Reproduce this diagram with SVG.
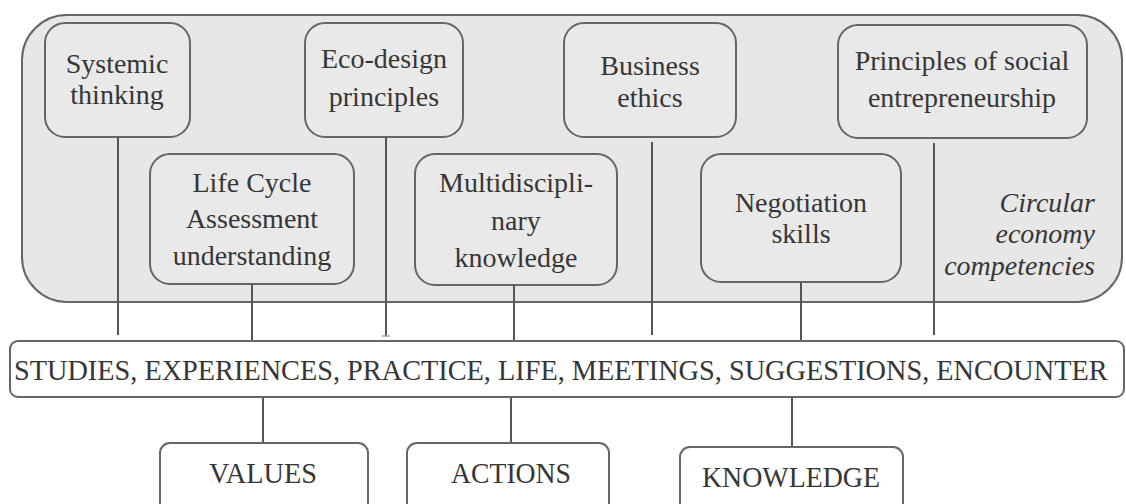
<svg xmlns="http://www.w3.org/2000/svg" width="1126" height="504" viewBox="0 0 1126 504">
<style>
.bg{fill:#ffffff}
.cont{fill:#e7e7e7;stroke:#666;stroke-width:2}
.node{fill:#e9e9e9;stroke:#666;stroke-width:2}
.wnode{fill:#ffffff;stroke:#666;stroke-width:2}
text{font-family:'Liberation Serif','DejaVu Serif',serif;fill:#363636}
.t{font-size:28px;text-anchor:middle}
.it{font-size:28px;font-style:italic;text-anchor:end}
.cap{font-size:29px}
.conn line{stroke:#555;stroke-width:2}
</style>
<rect class="bg" x="0" y="0" width="1126" height="504"/>
<g id="container">
<rect class="cont" x="22" y="15" width="1100" height="287" rx="45"/>
<text class="it" x="1095" y="212">Circular</text>
<text class="it" x="1095" y="243">economy</text>
<text class="it" x="1095" y="275">competencies</text>
</g>
<g id="systemic">
<rect class="node" x="45" y="23" width="145" height="114" rx="20"/>
<text class="t" x="117" y="73">Systemic</text>
<text class="t" x="117" y="104">thinking</text>
</g>
<g id="ecodesign">
<rect class="node" x="305" y="23" width="158" height="114" rx="20"/>
<text class="t" x="384" y="68">Eco-design</text>
<text class="t" x="384" y="106">principles</text>
</g>
<g id="business">
<rect class="node" x="564" y="23" width="172" height="114" rx="20"/>
<text class="t" x="650" y="75">Business</text>
<text class="t" x="650" y="107">ethics</text>
</g>
<g id="social">
<rect class="node" x="838" y="25" width="249" height="113" rx="20"/>
<text class="t" x="962" y="70">Principles of social</text>
<text class="t" x="962" y="107">entrepreneurship</text>
</g>
<g id="lca">
<rect class="node" x="150" y="154" width="204" height="130" rx="20"/>
<text class="t" x="252" y="192">Life Cycle</text>
<text class="t" x="252" y="228">Assessment</text>
<text class="t" x="252" y="265">understanding</text>
</g>
<g id="multi">
<rect class="node" x="415" y="154" width="202" height="131" rx="20"/>
<text class="t" x="516" y="192">Multidiscipli-</text>
<text class="t" x="516" y="230">nary</text>
<text class="t" x="516" y="267">knowledge</text>
</g>
<g id="negotiation">
<rect class="node" x="701" y="154" width="200" height="128" rx="20"/>
<text class="t" x="801" y="212">Negotiation</text>
<text class="t" x="801" y="243">skills</text>
</g>
<g id="conn" class="conn">
<line x1="118" y1="137" x2="118" y2="335"/>
<line x1="252" y1="284" x2="252" y2="341"/>
<line x1="386" y1="137" x2="386" y2="336"/>
<line x1="382" y1="336" x2="390" y2="336" style="stroke:#9aa;stroke-width:1.5"/>
<line x1="514" y1="285" x2="514" y2="341"/>
<line x1="652" y1="142" x2="652" y2="335"/>
<line x1="801" y1="282" x2="801" y2="341"/>
<line x1="934" y1="143" x2="934" y2="335"/>
<line x1="263" y1="397" x2="263" y2="443"/>
<line x1="511" y1="397" x2="511" y2="443"/>
<line x1="792" y1="397" x2="792" y2="447"/>
</g>
<g id="sources">
<rect class="wnode" x="10" y="341" width="1114" height="56" rx="8"/>
<text class="cap" transform="translate(14,380) scale(0.87,1)" x="0" y="0" textLength="1257" lengthAdjust="spacingAndGlyphs">STUDIES, EXPERIENCES, PRACTICE, LIFE, MEETINGS, SUGGESTIONS, ENCOUNTER</text>
</g>
<g id="values">
<rect class="wnode" x="160" y="443" width="208" height="75" rx="10"/>
<text class="cap" x="209" y="483" textLength="108" lengthAdjust="spacingAndGlyphs">VALUES</text>
</g>
<g id="actions">
<rect class="wnode" x="407" y="443" width="202" height="75" rx="10"/>
<text class="cap" x="451" y="483" textLength="120" lengthAdjust="spacingAndGlyphs">ACTIONS</text>
</g>
<g id="knowledge">
<rect class="wnode" x="680" y="447" width="223" height="75" rx="10"/>
<text class="cap" x="702" y="487" textLength="178" lengthAdjust="spacingAndGlyphs">KNOWLEDGE</text>
</g>
</svg>
